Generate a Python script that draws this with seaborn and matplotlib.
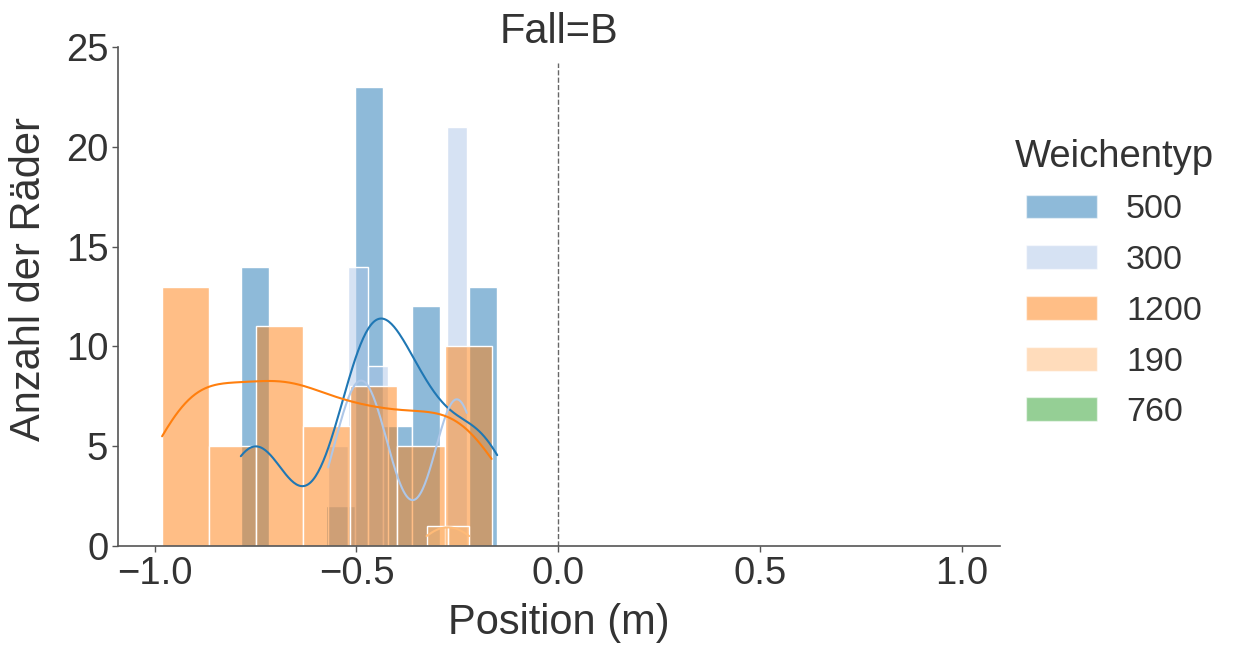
import numpy as np
import pandas as pd
import matplotlib
matplotlib.use("Agg")
import matplotlib.pyplot as plt
import seaborn as sns
from matplotlib.patches import Patch

# ---- data (facet Fall=B) ----
weichentyp = ["500", "300", "1200", "190", "760"]
palette = ["#1f77b4", "#aec7e8", "#ff7f0e", "#ffbb78", "#2ca02c"]

# histogram span (m) and bin counts per Weichentyp
range_500 = [-0.7866, -0.1512]
counts_500 = [14, 0, 0, 2, 23, 6, 12, 0, 13]
range_300 = [-0.5702, -0.2266]
counts_300 = [5, 14, 9, 0, 0, 0, 21]
range_1200 = [-0.9817, -0.1651]
counts_1200 = [13, 5, 11, 6, 8, 5, 10]
range_190 = [-0.3262, -0.2206]
counts_190 = [1, 1]
range_760 = []
counts_760 = []

x_ticks = [-1.0, -0.5, 0.0, 0.5, 1.0]
y_ticks = [0, 5, 10, 15, 20, 25]

ranges = {"500": range_500, "300": range_300, "1200": range_1200,
          "190": range_190, "760": range_760}
counts = {"500": counts_500, "300": counts_300, "1200": counts_1200,
          "190": counts_190, "760": counts_760}

rows = []
edges_by = {}
for h in weichentyp:
    if not counts[h]:
        continue
    lo, hi = ranges[h]
    edges = np.linspace(lo, hi, len(counts[h]) + 1)
    edges_by[h] = edges
    centers = (edges[:-1] + edges[1:]) / 2
    for v in np.repeat(centers, counts[h]):
        rows.append({"Position": v, "Weichentyp": h, "Fall": "B"})
df = pd.DataFrame(rows)

# ---- style ----
sns.set_theme(style="ticks")
plt.rcParams["font.family"] = ["Liberation Sans", "DejaVu Sans"]
text_col = "#333333"
plt.rcParams["text.color"] = text_col
plt.rcParams["axes.labelcolor"] = text_col
plt.rcParams["xtick.color"] = "#555555"
plt.rcParams["ytick.color"] = "#555555"

fig = plt.figure(figsize=(12.35, 6.46), dpi=100)
ax = fig.add_axes([118 / 1235, 1 - 546 / 646, (1000 - 118) / 1235, (546 - 47) / 646])

for h, c in zip(weichentyp, palette):
    if h not in edges_by:
        continue
    sub = df[df["Weichentyp"] == h]
    lo, hi = ranges[h]
    sns.histplot(data=sub, x="Position", bins=edges_by[h], color=c, alpha=0.5,
                 edgecolor="white", linewidth=1, kde=True,
                 kde_kws=dict(cut=3, clip=(lo, hi)),
                 line_kws=dict(linewidth=1.5), ax=ax)

ax.axvline(0, ymax=0.968, color="#666666", linestyle="--", linewidth=1)

ax.set_xlim(-1.091, 1.095)
ax.set_ylim(0, 25)
ax.set_xticks(x_ticks)
ax.set_yticks(y_ticks)
ax.set_xticklabels([f"{t:.1f}".replace("-", "\u2212") for t in x_ticks])
ax.tick_params(axis="both", labelsize=27.5, length=4, width=1, pad=3,
               labelcolor=text_col)
ax.set_xlabel("Position (m)", fontsize=30, labelpad=8)
ax.set_ylabel("Anzahl der Räder", fontsize=30)
ax.yaxis.set_label_coords(-0.078, 0.535)
ax.set_title("Fall=B", fontsize=30, y=1.0, pad=3, color=text_col)
sns.despine(ax=ax)
for s in ["left", "bottom"]:
    ax.spines[s].set_color("#555555")
    ax.spines[s].set_linewidth(1.2)

handles = [Patch(facecolor=c, alpha=0.5, edgecolor="white", linewidth=1)
           for c in palette]
leg = fig.legend(handles, weichentyp, title="Weichentyp", loc="upper left",
                 bbox_to_anchor=(984 / 1235, 1 - 108 / 646), frameon=False,
                 fontsize=24.5, title_fontsize=27.5, handlelength=2.08,
                 handleheight=0.7, handletextpad=0.85, labelspacing=0.58)

fig.savefig("out.png", dpi=100)
